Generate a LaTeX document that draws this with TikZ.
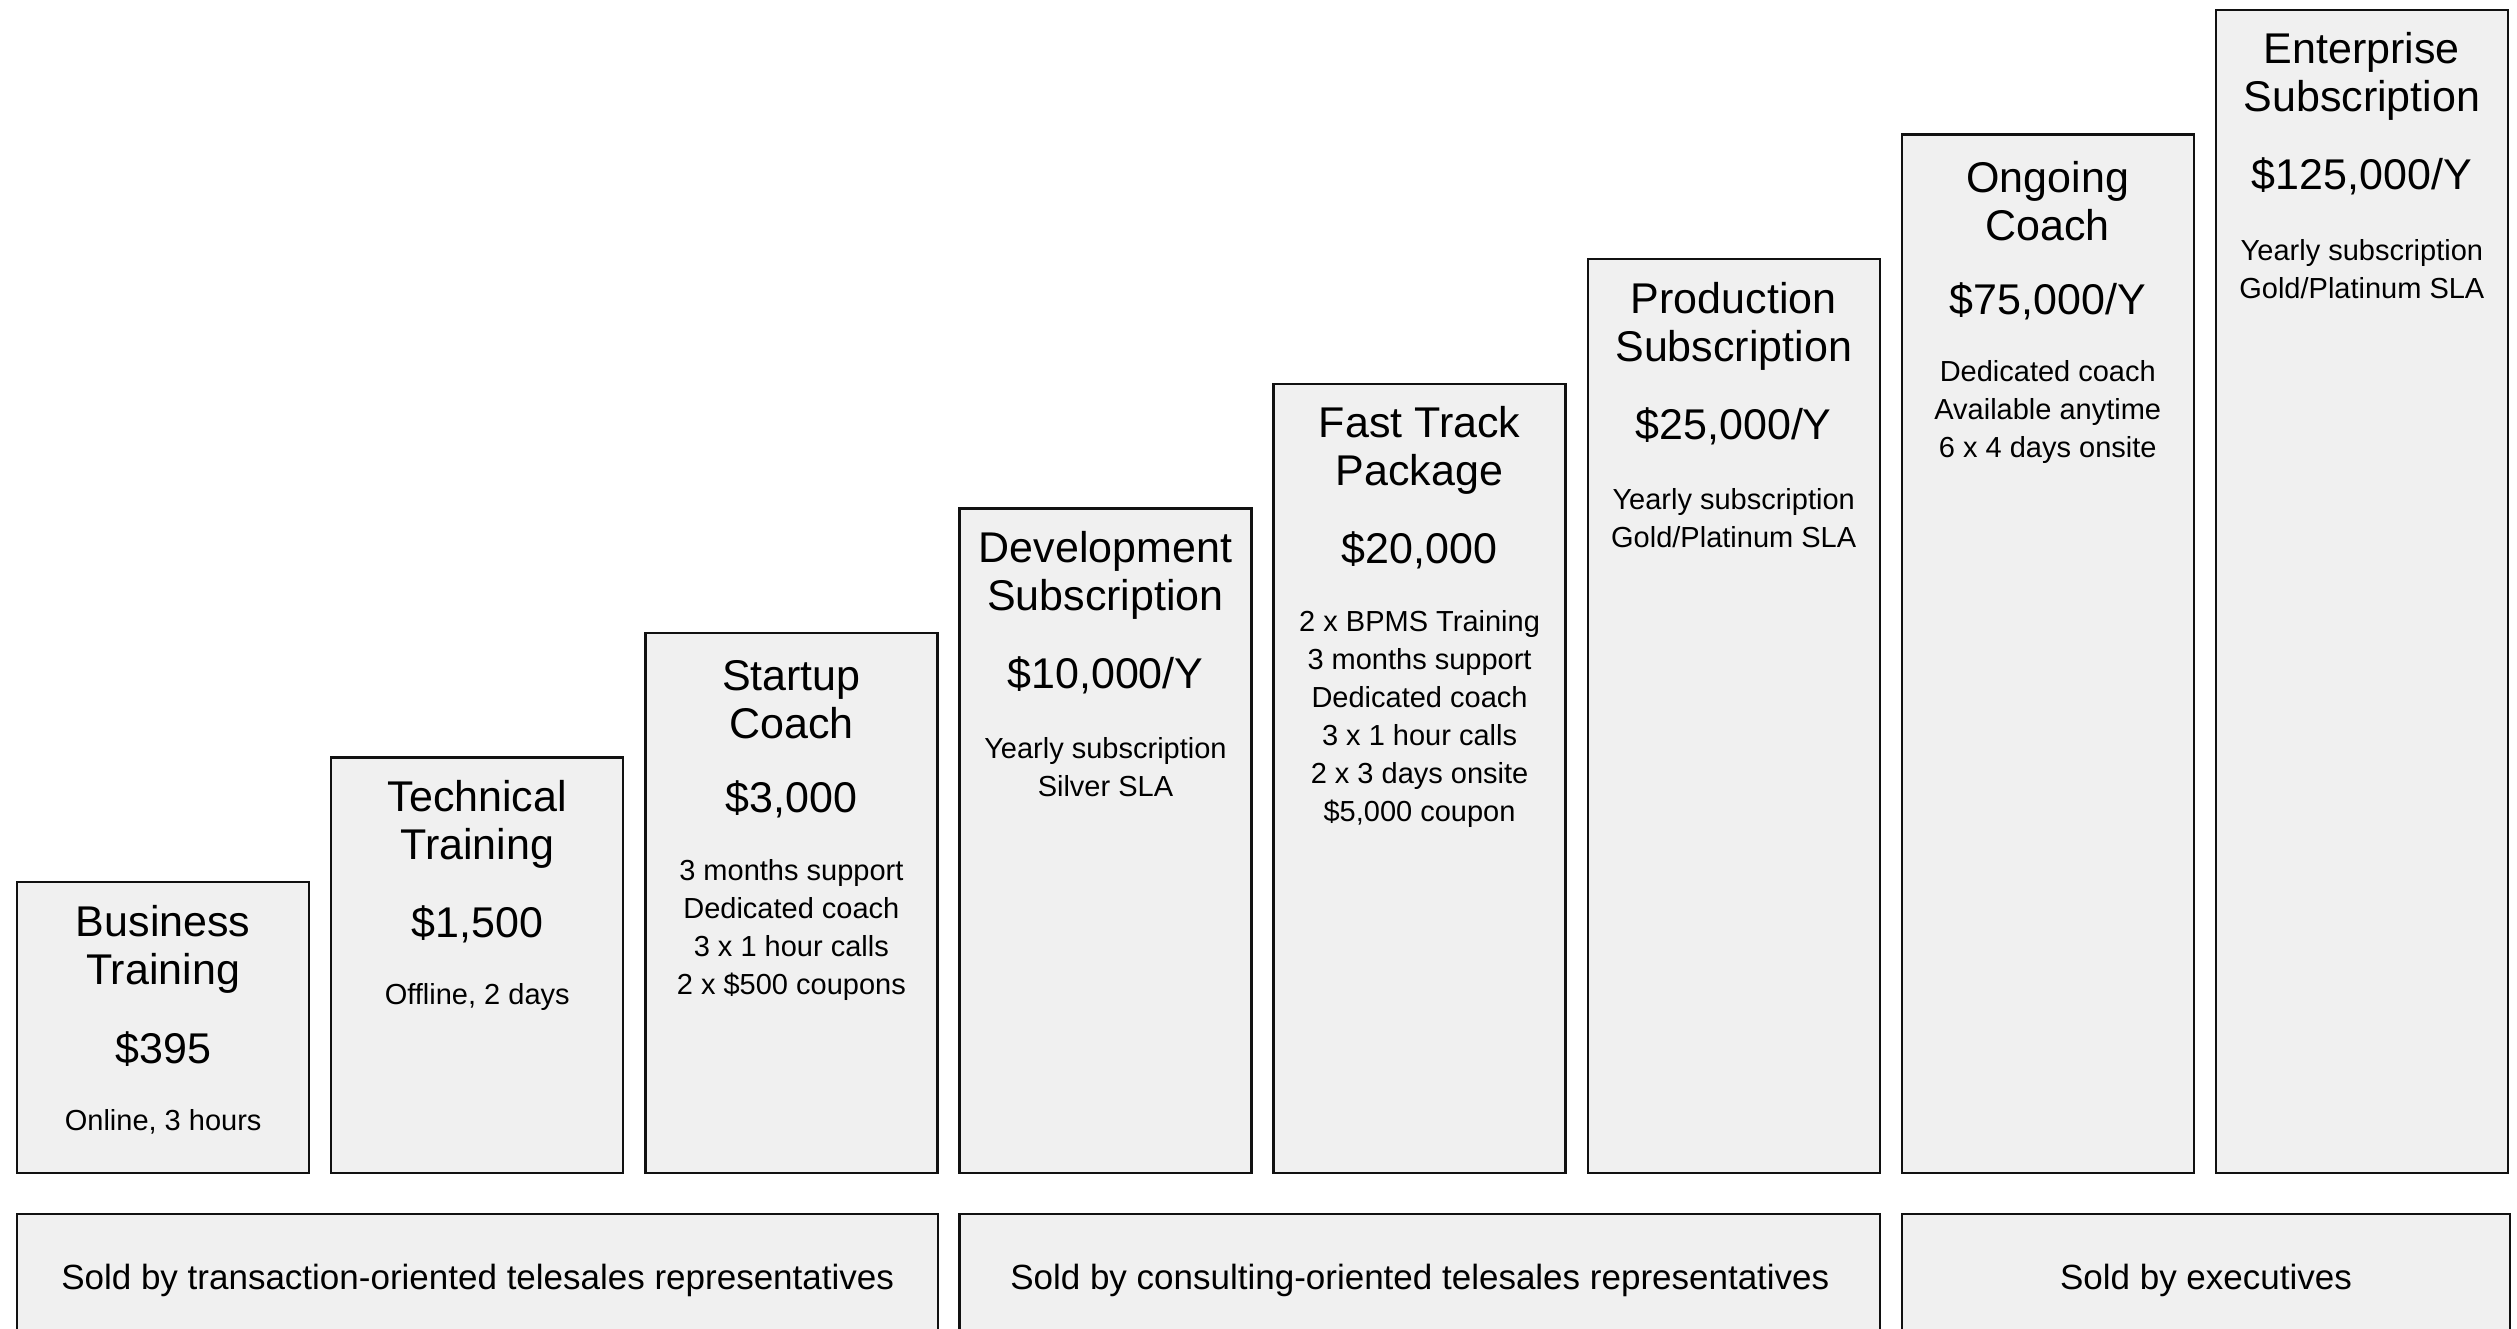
\documentclass[tikz,border=0pt]{standalone}
\usepackage{fontspec}
\setmainfont{Liberation Sans}
\usetikzlibrary{calc}
\definecolor{boxfill}{HTML}{F0F0F0}
\definecolor{boxline}{HTML}{111111}
\tikzset{
  prod/.style={draw=boxline, fill=boxfill, line width=2.3pt, minimum width=292pt, inner sep=0pt, anchor=north west},
  band/.style={draw=boxline, fill=boxfill, line width=2.3pt, minimum height=132pt, inner sep=0pt, anchor=north west, font=\fontsize{35}{40}\selectfont},
  ttl/.style={font=\fontsize{43}{48}\selectfont, align=center, inner sep=0pt},
  price/.style={font=\fontsize{43}{48}\selectfont, inner sep=0pt},
  det/.style={font=\fontsize{29}{38}\selectfont, align=center, inner sep=0pt}
}
\begin{document}
\begin{tikzpicture}[x=1pt,y=-1pt]
\useasboundingbox (0,0) rectangle (2517,1329);
% product boxes
\node[prod, minimum height=291pt]    (b1) at (16,881) {};
\node[prod, minimum height=415.6pt]  (b2) at (330.1,756.4) {};
\node[prod, minimum height=540.2pt]  (b3) at (644.2,631.8) {};
\node[prod, minimum height=664.8pt]  (b4) at (958.3,507.2) {};
\node[prod, minimum height=789.4pt]  (b5) at (1272.4,382.6) {};
\node[prod, minimum height=914pt]    (b6) at (1586.5,258) {};
\node[prod, minimum height=1038.6pt] (b7) at (1900.6,133.4) {};
\node[prod, minimum height=1163.2pt] (b8) at (2214.7,8.8) {};
% titles
\node[ttl] (t1) at ($(b1.north)+(0,68)$) {Business\\Training};
\node[ttl] (t2) at ($(b2.north)+(0,68)$) {Technical\\Training};
\node[ttl] (t3) at ($(b3.north)+(0,68)$) {Startup\\Coach};
\node[ttl] (t4) at ($(b4.north)+(0,68)$) {Development\\Subscription};
\node[ttl] (t5) at ($(b5.north)+(0,68)$) {Fast Track\\Package};
\node[ttl] (t6) at ($(b6.north)+(0,68)$) {Production\\Subscription};
\node[ttl] (t7) at ($(b7.north)+(0,68)$) {Ongoing\\Coach};
\node[ttl] (t8) at ($(b8.north)+(0,68)$) {Enterprise\\Subscription};
% prices
\node[price] (p1) at ($(b1.north)+(0,168)$) {\$395};
\node[price] (p2) at ($(b2.north)+(0,168)$) {\$1,500};
\node[price] (p3) at ($(b3.north)+(0,168)$) {\$3,000};
\node[price] (p4) at ($(b4.north)+(0,168)$) {\$10,000/Y};
\node[price] (p5) at ($(b5.north)+(0,168)$) {\$20,000};
\node[price] (p6) at ($(b6.north)+(0,168)$) {\$25,000/Y};
\node[price] (p7) at ($(b7.north)+(0,168)$) {\$75,000/Y};
\node[price] (p8) at ($(b8.north)+(0,168)$) {\$125,000/Y};
% details
\node[det] (d1) at ($(b1.north)+(0,241)$) {Online, 3 hours};
\node[det] (d2) at ($(b2.north)+(0,241)$) {Offline, 2 days};
\node[det] (d3) at ($(b3.north)+(0,298)$) {3 months support\\Dedicated coach\\3 x 1 hour calls\\2 x \$500 coupons};
\node[det] (d4) at ($(b4.north)+(0,260)$) {Yearly subscription\\Silver SLA};
\node[det] (d5) at ($(b5.north)+(0,336)$) {2 x BPMS Training\\3 months support\\Dedicated coach\\3 x 1 hour calls\\2 x 3 days onsite\\\$5,000 coupon};
\node[det] (d6) at ($(b6.north)+(0,260)$) {Yearly subscription\\Gold/Platinum SLA};
\node[det] (d7) at ($(b7.north)+(0,279)$) {Dedicated coach\\Available anytime\\6 x 4 days onsite};
\node[det] (d8) at ($(b8.north)+(0,260)$) {Yearly subscription\\Gold/Platinum SLA};
% bands
\node[band, minimum width=921pt]   (s1) at (16,1213) {Sold by transaction-oriented telesales representatives};
\node[band, minimum width=920.7pt] (s2) at (958.3,1213) {Sold by consulting-oriented telesales representatives};
\node[band, minimum width=608.4pt] (s3) at (1900.6,1213) {Sold by executives};
\end{tikzpicture}
\end{document}
